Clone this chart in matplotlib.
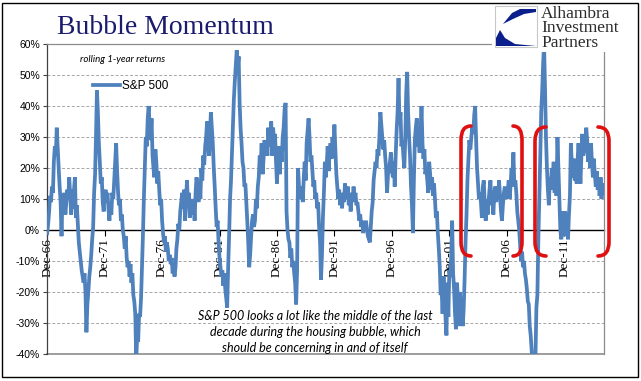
import pandas as pd
import matplotlib
matplotlib.use("Agg")
import matplotlib.pyplot as plt
from matplotlib.path import Path
from matplotlib.patches import PathPatch, Rectangle, Polygon

# S&P 500 rolling 1-year returns (%), monthly
first_month = "1966-12-01"
sp500_returns = [
    -1,
    2, 6, 11, 9, 14, 12, 22, 27, 24, 33, 26, 20,          # 1967
    14, 9, -2, 11, 8, 12, 5, 9, 13, 10, 17, 11,           # 1968
    5, 13, 7, 13, 17, 4, 8, 2, -4, -7, -10, -13,          # 1969
    -15, -17, -14, -20, -33, -24, -20, -15, -12, -8, -3, 1,
    12, 18, 30, 45, 38, 28, 22, 15, 17, 9, 6, 11,         # 1971
    13, 9, 12, 7, 3, 9, 5, 12, 10, 16, 22, 28,
    19, 12, 8, 10, 3, 5, 0, -2, -6, -2, -9, -12,          # 1973
    -10, -15, -11, -17, -14, -21, -23, -27, -42, -34, -36, -27,
    -28, -22, -13, -2, 10, 20, 30, 27, 36, 40, 34, 29,    # 1975
    36, 24, 20, 17, 26, 22, 15, 19, 13, 8, 10, 3,
    -1, -4, -2, -7, -4, -6, -10, -8, -11, -9, -14, -12,   # 1977
    -15, -12, -6, -3, 2, 0, 6, 9, 12, 7, 13, 3,
    10, 16, 9, 12, 4, 8, 10, 5, 9, 3, 12, 17,             # 1979
    14, 9, 15, 10, 20, 16, 24, 21, 27, 30, 35, 29,
    24, 31, 38, 33, 28, 20, 14, 7, 1, 3, -4, -9,          # 1981
    -12, -15, -13, -18, -14, -19, -22, -25, -12, -2, 10, 16,
    25, 34, 42, 48, 53, 58, 52, 56, 41, 33, 28, 22,       # 1983
    20, 14, 15, 9, 3, -4, -12, -8, -2, 3, 5, 1,
    3, 10, 7, 14, 17, 24, 21, 28, 18, 23, 29, 25,         # 1985
    28, 24, 33, 27, 30, 35, 24, 33, 28, 31, 22, 15,
    24, 27, 18, 26, 22, 30, 33, 39, 41, 6, 0, -3,         # 1987
    -4, -9, -6, -12, -10, -14, -17, -24, -13, 20, 14, 12,
    10, 14, 9, 17, 22, 16, 28, 32, 36, 30, 22, 24,        # 1989
    19, 14, 16, 10, 12, 7, 9, 1, -4, -16, -8, 4,
    12, 22, 17, 21, 27, 19, 25, 28, 23, 30, 26, 34,       # 1991
    26, 18, 14, 10, 13, 8, 11, 7, 12, 9, 15, 12,
    10, 14, 8, 12, 6, 11, 9, 14, 10, 12, 8, 9,            # 1993
    6, 3, 5, 1, 3, -1, 2, 1, 3, 0, -2, -3,
    -4, 1, 6, 9, 16, 19, 22, 20, 26, 24, 30, 38,          # 1995
    34, 30, 26, 29, 24, 20, 12, 18, 19, 22, 25, 20,
    17, 22, 14, 24, 32, 38, 49, 34, 38, 27, 29, 24,       # 1997
    20, 30, 44, 51, 38, 30, 24, 14, 8, -1, 16, 29,
    33, 36, 27, 30, 25, 31, 40, 28, 23, 26, 18, 20,       # 1999
    16, 12, 22, 18, 13, 17, 11, 15, 10, 4, 6, -1,
    -6, -12, -21, -19, -27, -15, -22, -28, -34, -17, -28, -13,  # 2001
    -15, -8, 3, -14, -19, -27, -32, -17, -22, -31, -20, -24,
    -28, -31, -26, -16, -4, 5, 16, 23, 29, 26, 30, 33,    # 2003
    31, 37, 40, 29, 20, 15, 10, 12, 9, 4, 14, 16,
    8, 3, 10, 5, 9, 13, 16, 8, 11, 5, 12, 14,             # 2005
    9, 14, 10, 16, 11, 6, 3, 8, 12, 14, 10, 13,
    12, 16, 10, 14, 20, 18, 25, 14, 16, 12, 6, 3,         # 2007
    0, -5, -10, -7, -12, -10, -14, -16, -19, -23, -24, -31,
    -34, -39, -45, -43, -46, -41, -25, -21, -3, 10, 24, 38,  # 2009
    45, 54, 60, 46, 30, 20, 13, 8, 17, 13, 20, 16,
    22, 12, 18, 11, 30, 20, 10, 0, -3, 6, 1, -2,          # 2011
    6, -1, 4, -3, 5, 11, 28, 21, 17, 23, 16, 20,
    15, 23, 28, 21, 15, 24, 31, 24, 28, 25, 33, 29,       # 2013
    22, 27, 20, 28, 22, 17, 23, 18, 14, 19, 13, 17,
    11, 17, 10, 15, 12,                                   # 2015
]
dates = pd.date_range(first_month, periods=len(sp500_returns), freq="MS")

y_ticks = [60, 50, 40, 30, 20, 10, 0, -10, -20, -30, -40]
tick_years = [1966, 1971, 1976, 1981, 1986, 1991, 1996, 2001, 2006, 2011]

W, H = 641, 381
BLUE = "#4F81BD"
GRID = "#A6A6A6"
FRAME = "#8C8C8C"


def fx(px):
    return px / W


def fy(py):
    return 1 - py / H


fig = plt.figure(figsize=(W / 100, H / 100), dpi=100)
fig.patch.set_facecolor("white")

ax = fig.add_axes([fx(47), fy(354), (604 - 47) / W, (354 - 44) / H])
ax.plot(dates, sp500_returns, color=BLUE, lw=2.7, solid_joinstyle="miter",
        label="S&P 500", zorder=3)

ax.set_ylim(-40, 60)
ax.set_xlim(pd.Timestamp("1966-11-25"), pd.Timestamp("2015-05-20"))
ax.set_yticks(y_ticks)
ax.set_yticklabels([f"{v}%" for v in y_ticks], family="Liberation Sans",
                   fontsize=7.5)
for v in y_ticks:
    if v not in (0, 60, -40):
        ax.axhline(v, color=GRID, lw=0.7, ls=(0, (3, 2)), zorder=1)

# category axis crosses at zero
ax.spines["bottom"].set_position(("data", 0))
ax.spines["bottom"].set_color("black")
ax.spines["bottom"].set_linewidth(1.0)
ax.spines["bottom"].set_zorder(2)
for s in ("left", "top", "right"):
    ax.spines[s].set_color(FRAME)
    ax.spines[s].set_linewidth(0.9)
ax.spines["left"].set_color("#404040")
ax.axhline(-40, color=FRAME, lw=1.2, clip_on=False, zorder=1)

tick_dates = [pd.Timestamp(y, 12, 1) for y in tick_years]
ax.set_xticks(tick_dates)
ax.set_xticklabels([d.strftime("%b-%y") for d in tick_dates], rotation=90,
                   family="Liberation Serif", fontsize=9.5)
ax.tick_params(axis="x", direction="out", length=4, width=0.8, pad=2)
ax.tick_params(axis="y", direction="out", length=3, width=0.8, pad=2,
               color="#404040")

leg = ax.legend(loc="center left", bbox_to_anchor=(fx(93), fy(86)),
                bbox_transform=fig.transFigure, frameon=False,
                handlelength=2.3, handletextpad=0.15, borderpad=0,
                borderaxespad=0, prop={"family": "Liberation Sans", "size": 8.5})

fig.text(fx(80), fy(59), "rolling 1-year returns", style="italic",
         family=["Lato", "DejaVu Sans"], fontsize=7, va="center", ha="left")

note = ("S&P 500 looks a lot like the middle of the last\n"
        "decade during the housing bubble, which\n"
        "should be concerning in and of itself")
fig.text(fx(315), fy(332), note, style="italic", family=["Lato", "DejaVu Sans"],
         fontsize=9, ha="center", va="center", linespacing=1.4)

# title
fig.text(fx(57), fy(34), "Bubble Momentum", family="Liberation Serif",
         fontsize=20, color="#1B1B6E", ha="left", va="baseline")

# red brackets around the two periods
def bracket(x_vert, x_end, y_top, y_bot, hook=14):
    verts = [(x_end, y_top), (x_vert, y_top), (x_vert, y_top + hook),
             (x_vert, y_bot - hook), (x_vert, y_bot), (x_end, y_bot)]
    codes = [Path.MOVETO, Path.CURVE3, Path.CURVE3, Path.LINETO,
             Path.CURVE3, Path.CURVE3]
    pts = [(fx(a), fy(b)) for a, b in verts]
    fig.patches.append(PathPatch(Path(pts, codes), transform=fig.transFigure,
                                 fill=False, ec="#E01010", lw=2.6,
                                 capstyle="round", zorder=5))


bracket(461, 471, 126, 256)
bracket(522, 513, 126, 256)
bracket(535, 546, 127, 256)
bracket(609, 598, 127, 256)

# logo
fig.patches.append(Rectangle((fx(492), fy(52)), fx(130), 52 / H,
                             transform=fig.transFigure, fc="white", ec="none",
                             zorder=6))
fig.patches.append(Rectangle((fx(495), fy(47)), fx(42), 41 / H,
                             transform=fig.transFigure, fc="white",
                             ec="#C8C8C8", lw=0.8, zorder=7))
swoosh_top = [(503, 24), (512, 13), (520, 9), (536, 9), (536, 12), (524, 14), (513, 19)]
swoosh_bot = [(500, 30), (505, 38), (515, 44), (536, 46), (496, 46), (496, 38)]
for shape in (swoosh_top, swoosh_bot):
    fig.patches.append(Polygon([(fx(a), fy(b)) for a, b in shape], closed=True,
                               transform=fig.transFigure, fc="#0B1F8C",
                               ec="none", zorder=8))
for i, word in enumerate(["Alhambra", "Investment", "Partners"]):
    fig.text(fx(541), fy(18 + i * 14.5), word, family="Liberation Serif",
             fontsize=12.5, color="#2B2B2B", ha="left", va="baseline", zorder=9)

# outer border
fig.patches.append(Rectangle((fx(2), fy(377)), fx(636), 374 / H,
                             transform=fig.transFigure, fill=False,
                             ec="black", lw=1.0, zorder=10))

fig.savefig("out.png", dpi=100)
